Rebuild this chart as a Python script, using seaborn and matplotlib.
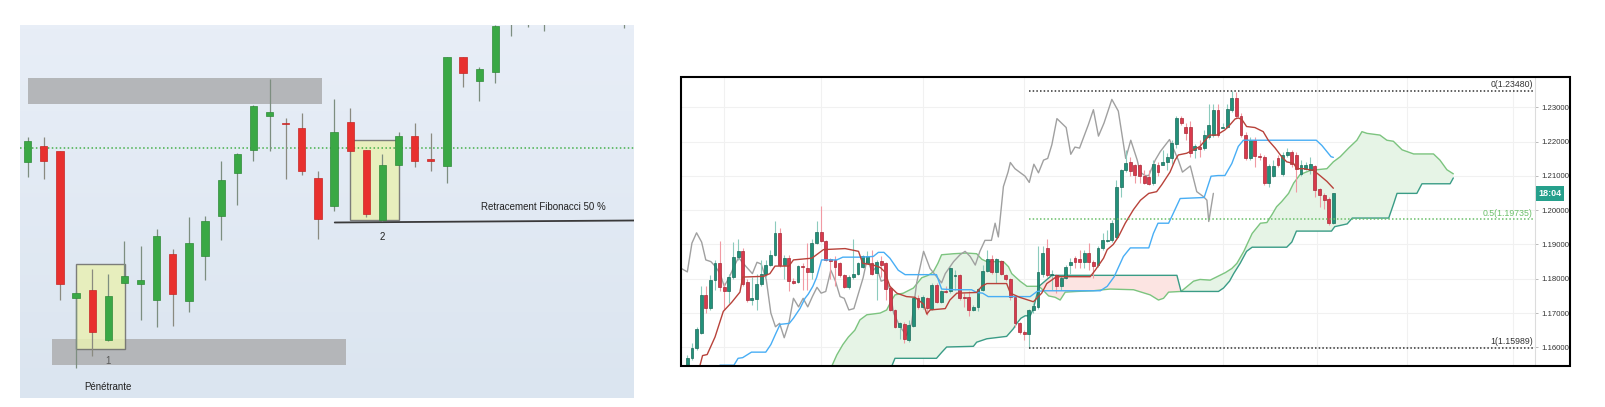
import numpy as np
import matplotlib
matplotlib.use("Agg")
import matplotlib.pyplot as plt
import matplotlib.transforms as mtransforms
from matplotlib.colors import LinearSegmentedColormap
from matplotlib.patches import Rectangle
import seaborn as sns

# ---------------- left chart: hand drawn pattern (arbitrary point scale) ----------------
pat_open = [71.3, 76.3, 74.8, 30.5, 33.0, 18.0, 35.0, 34.8, 30.0, 43.7, 29.5, 43.2, 55.0,
            68.2, 75.0, 85.3, 83.0, 81.5, 66.7, 58.3, 83.3, 74.9, 54.0, 70.6, 79.2, 72.3,
            70.2, 102.8, 95.8, 98.4, 118.0, 115.0, 114.0, 120.0, 124.0, 121.0, 123.0, 115.0]
pat_high = [79.0, 79.0, 74.8, 32.5, 39.2, 37.7, 47.5, 46.0, 51.2, 45.2, 54.8, 55.0, 71.6,
            74.0, 88.5, 96.2, 84.5, 86.2, 68.7, 90.4, 87.5, 74.9, 73.7, 80.3, 83.0, 80.0,
            103.0, 103.0, 100.0, 112.4, 126.0, 122.0, 121.0, 126.0, 127.0, 128.0, 129.0, 124.0]
pat_low = [66.8, 66.2, 30.0, 9.5, 13.2, 17.5, 35.0, 23.8, 21.7, 22.2, 26.2, 36.0, 48.0,
           58.5, 71.7, 74.8, 66.3, 67.5, 48.2, 56.8, 74.7, 54.8, 53.5, 70.6, 70.0, 68.8,
           65.0, 93.8, 89.8, 95.0, 109.2, 112.0, 110.8, 116.0, 118.0, 117.0, 117.0, 111.6]
pat_close = [77.8, 71.7, 34.8, 32.0, 20.2, 31.0, 37.2, 36.0, 49.0, 31.6, 47.0, 53.7, 65.9,
             73.8, 88.2, 86.3, 82.7, 68.7, 54.2, 80.4, 74.7, 55.8, 70.6, 79.2, 71.7, 71.7,
             102.8, 98.0, 99.2, 112.2, 125.0, 120.0, 119.0, 124.0, 121.0, 126.0, 127.0, 122.0]

zone_supply = (0.03, 18.25, 88.9, 96.5)     # x0, x1, y0, y1
zone_demand = (1.49, 19.75, 10.3, 18.2)
box_pattern1 = (3.0, 6.03, 15.3, 40.7)
box_pattern2 = (20.0, 23.04, 54.0, 78.0)
pivot_level = 75.5
fibo_start, fibo_y0, fibo_y1 = 19.04, 53.2, 53.8

# ---------------- right chart: EUR/USD daily with Ichimoku ----------------
ich_open = [1.1548, 1.1568, 1.1598, 1.1642, 1.1753, 1.1715, 1.1795, 1.1847, 1.1776, 1.1765,
            1.1806, 1.1863, 1.1882, 1.1790, 1.1738, 1.1740, 1.1786, 1.1813, 1.1840, 1.1870,
            1.1932, 1.1840, 1.1861, 1.1793, 1.1790, 1.1838, 1.1830, 1.1820, 1.1904, 1.1937,
            1.1910, 1.1857, 1.1855, 1.1845, 1.1812, 1.1775, 1.1805, 1.1815, 1.1833, 1.1847,
            1.1845, 1.1817, 1.1852, 1.1845, 1.1773, 1.1710, 1.1660, 1.1668, 1.1622, 1.1663,
            1.1743, 1.1718, 1.1743, 1.1713, 1.1783, 1.1733, 1.1764, 1.1763, 1.1807, 1.1810,
            1.1748, 1.1748, 1.1709, 1.1718, 1.1768, 1.1823, 1.1857, 1.1820, 1.1852, 1.1810,
            1.1798, 1.1746, 1.1672, 1.1645, 1.1640, 1.1709, 1.1718, 1.1815, 1.1890, 1.1810,
            1.1810, 1.1778, 1.1803, 1.1840, 1.1860, 1.1858, 1.1850, 1.1875, 1.1850, 1.1840,
            1.1890, 1.1910, 1.1912, 1.1922, 1.2069, 1.2116, 1.2141, 1.2131, 1.2131, 1.2101,
            1.2098, 1.2079, 1.2133, 1.2133, 1.2141, 1.2151, 1.2194, 1.2269, 1.2244, 1.2244,
            1.2176, 1.2184, 1.2181, 1.2214, 1.2219, 1.2293, 1.2241, 1.2244, 1.2291, 1.2326,
            1.2274, 1.2219, 1.2151, 1.2206, 1.2158, 1.2154, 1.2079, 1.2101, 1.2151, 1.2106,
            1.2161, 1.2171, 1.2161, 1.2106, 1.2121, 1.2116, 1.2128, 1.2061, 1.2044, 1.2034,
            1.1962]
ich_high = [1.1578, 1.1613, 1.1660, 1.1778, 1.1778, 1.1810, 1.1855, 1.1909, 1.1788, 1.1813,
            1.1907, 1.1917, 1.1890, 1.1798, 1.1806, 1.1815, 1.1855, 1.1855, 1.1885, 1.1967,
            1.1947, 1.1870, 1.1870, 1.1803, 1.1840, 1.1845, 1.1905, 1.1917, 1.1967, 1.2011,
            1.1912, 1.1860, 1.1865, 1.1850, 1.1815, 1.1810, 1.1917, 1.1850, 1.1870, 1.1880,
            1.1885, 1.1855, 1.1865, 1.1850, 1.1778, 1.1713, 1.1675, 1.1675, 1.1680, 1.1748,
            1.1753, 1.1753, 1.1748, 1.1788, 1.1788, 1.1768, 1.1778, 1.1835, 1.1825, 1.1813,
            1.1758, 1.1763, 1.1723, 1.1773, 1.1840, 1.1885, 1.1870, 1.1862, 1.1855, 1.1815,
            1.1803, 1.1753, 1.1675, 1.1650, 1.1713, 1.1728, 1.1895, 1.1895, 1.1917, 1.1825,
            1.1815, 1.1808, 1.1840, 1.1860, 1.1865, 1.1885, 1.1885, 1.1905, 1.1855, 1.1895,
            1.1932, 1.1942, 1.1972, 1.2089, 1.2121, 1.2176, 1.2156, 1.2136, 1.2136, 1.2116,
            1.2116, 1.2146, 1.2141, 1.2176, 1.2166, 1.2204, 1.2274, 1.2274, 1.2254, 1.2259,
            1.2194, 1.2204, 1.2234, 1.2311, 1.2311, 1.2311, 1.2254, 1.2311, 1.2348, 1.2346,
            1.2284, 1.2229, 1.2214, 1.2214, 1.2166, 1.2161, 1.2136, 1.2146, 1.2161, 1.2171,
            1.2181, 1.2176, 1.2171, 1.2146, 1.2141, 1.2156, 1.2131, 1.2064, 1.2049, 1.2039,
            1.2051]
ich_low = [1.1538, 1.1563, 1.1593, 1.1640, 1.1700, 1.1709, 1.1768, 1.1763, 1.1709, 1.1728,
           1.1798, 1.1855, 1.1780, 1.1733, 1.1723, 1.1710, 1.1778, 1.1806, 1.1837, 1.1867,
           1.1835, 1.1798, 1.1763, 1.1786, 1.1788, 1.1768, 1.1768, 1.1798, 1.1900, 1.1907,
           1.1853, 1.1798, 1.1778, 1.1806, 1.1773, 1.1771, 1.1798, 1.1810, 1.1830, 1.1845,
           1.1810, 1.1738, 1.1806, 1.1738, 1.1706, 1.1655, 1.1625, 1.1612, 1.1615, 1.1660,
           1.1713, 1.1713, 1.1695, 1.1709, 1.1728, 1.1728, 1.1758, 1.1758, 1.1768, 1.1738,
           1.1718, 1.1690, 1.1706, 1.1705, 1.1763, 1.1820, 1.1815, 1.1788, 1.1810, 1.1793,
           1.1738, 1.1660, 1.1638, 1.1620, 1.15989, 1.1700, 1.1713, 1.1806, 1.1806, 1.1768,
           1.1758, 1.1768, 1.1798, 1.1815, 1.1830, 1.1830, 1.1830, 1.1825, 1.1803, 1.1835,
           1.1885, 1.1907, 1.1907, 1.1917, 1.2039, 1.2111, 1.2101, 1.2079, 1.2079, 1.2077,
           1.2074, 1.2074, 1.2101, 1.2131, 1.2116, 1.2136, 1.2181, 1.2249, 1.2204, 1.2156,
           1.2151, 1.2156, 1.2176, 1.2209, 1.2214, 1.2214, 1.2239, 1.2239, 1.2286, 1.2269,
           1.2214, 1.2146, 1.2146, 1.2126, 1.2146, 1.2074, 1.2069, 1.2096, 1.2126, 1.2101,
           1.2156, 1.2126, 1.2054, 1.2101, 1.2116, 1.2106, 1.2039, 1.2009, 1.2004, 1.1957,
           1.1960]
ich_close = [1.1570, 1.1598, 1.1653, 1.1753, 1.1715, 1.1795, 1.1847, 1.1776, 1.1765, 1.1806,
             1.1863, 1.1880, 1.1785, 1.1738, 1.1743, 1.1786, 1.1813, 1.1840, 1.1870, 1.1932,
             1.1840, 1.1861, 1.1793, 1.1788, 1.1837, 1.1833, 1.1820, 1.1904, 1.1937, 1.1910,
             1.1855, 1.1851, 1.1835, 1.1812, 1.1775, 1.1805, 1.1815, 1.1845, 1.1865, 1.1865,
             1.1815, 1.1850, 1.1840, 1.1770, 1.1710, 1.1660, 1.1670, 1.1625, 1.1665, 1.1743,
             1.1718, 1.1746, 1.1715, 1.1783, 1.1733, 1.1763, 1.1760, 1.1830, 1.1812, 1.1743,
             1.1743, 1.1709, 1.1718, 1.1770, 1.1823, 1.1857, 1.1820, 1.1857, 1.1815, 1.1798,
             1.1746, 1.1672, 1.1645, 1.1640, 1.1710, 1.1720, 1.1820, 1.1875, 1.1810, 1.1815,
             1.1778, 1.1803, 1.1835, 1.1850, 1.1850, 1.1850, 1.1875, 1.1850, 1.1837, 1.1890,
             1.1912, 1.1914, 1.1962, 1.2069, 1.2116, 1.2138, 1.2114, 1.2104, 1.2101, 1.2079,
             1.2077, 1.2136, 1.2111, 1.2141, 1.2156, 1.2196, 1.2269, 1.2254, 1.2224, 1.2166,
             1.2186, 1.2178, 1.2219, 1.2249, 1.2293, 1.2219, 1.2244, 1.2296, 1.2326, 1.2274,
             1.2219, 1.2151, 1.2206, 1.2158, 1.2154, 1.2079, 1.2128, 1.2128, 1.2131, 1.2161,
             1.2171, 1.2136, 1.2121, 1.2131, 1.2131, 1.2134, 1.2059, 1.2044, 1.2031, 1.1962,
             1.2049]

# Ichimoku lines, read as vertices (bar index, price)
tenkan_bar = [2.2, 2.7, 3.3, 4.3, 6.0, 7.8, 9.6, 11.4, 12, 16.5, 17.9, 19, 22, 23, 27, 29.5,
              34.2, 37.1, 38, 40.3, 41.8, 42.8, 43.9, 45.4, 47.5, 49.3, 51.2, 51.9, 52.6, 55.9,
              56.9, 58.4, 62.7, 63.8, 64.9, 69.2, 70, 72, 75, 76.8, 77.9, 80, 87.3, 88.4, 90.2,
              91, 92.3, 93.4, 94.9, 96.7, 98.2, 100, 101.7, 102.8, 104.6, 105.7, 106.4, 108.2,
              109.7, 111.1, 113.2, 114.7, 116.5, 117.6, 118.7, 119.4, 120.2, 121.2, 123, 124.8,
              125.9, 127.4, 128.8, 129.9, 131.4, 132.1, 133.5, 135.7, 137.1, 138.6, 140]
tenkan_val = [1.1523, 1.1545, 1.1576, 1.1579, 1.1630, 1.1705, 1.1731, 1.1761, 1.1805, 1.1807,
              1.1815, 1.1837, 1.1837, 1.1855, 1.1860, 1.1885, 1.1888, 1.1880, 1.1845, 1.1840,
              1.1833, 1.1820, 1.1778, 1.1758, 1.1748, 1.1746, 1.1726, 1.1697, 1.1709, 1.1713,
              1.1738, 1.1758, 1.1760, 1.1778, 1.1786, 1.1786, 1.1758, 1.1746, 1.1733, 1.1758,
              1.1786, 1.1806, 1.1806, 1.1825, 1.1860, 1.1885, 1.1900, 1.1922, 1.1962, 1.2002,
              1.2029, 1.2049, 1.2054, 1.2074, 1.2111, 1.2146, 1.2161, 1.2166, 1.2176, 1.2186,
              1.2219, 1.2219, 1.2234, 1.2249, 1.2266, 1.2269, 1.2264, 1.2244, 1.2241, 1.2229,
              1.2204, 1.2181, 1.2156, 1.2141, 1.2136, 1.2121, 1.2121, 1.2116, 1.2101, 1.2084,
              1.2064]

kijun_bar = [5.5, 7.1, 10.1, 11, 12, 13.9, 17, 18.1, 19.2, 20.1, 22.1, 23, 24.4, 25.5, 26.2,
             27.2, 28, 29.1, 32.4, 33.7, 37.4, 40.3, 41.4, 42.6, 43.9, 45.7, 47.2, 54, 55.1,
             57.7, 61.6, 62.7, 64, 65.2, 74.3, 75.8, 77.3, 89.5, 91, 92.5, 94.5, 96, 100, 101,
             102, 104.3, 105, 106.8, 112, 113.5, 115, 116.5, 118, 119.4, 120.5, 136.3, 137.5,
             139.5, 140]
kijun_val = [1.1533, 1.1548, 1.1548, 1.1568, 1.1570, 1.1586, 1.1586, 1.1608, 1.1641, 1.1667,
             1.1670, 1.1685, 1.1713, 1.1743, 1.1755, 1.1778, 1.1803, 1.1855, 1.1855, 1.1863,
             1.1863, 1.1865, 1.1877, 1.1877, 1.1860, 1.1825, 1.1812, 1.1812, 1.1770, 1.1768,
             1.1768, 1.1760, 1.1758, 1.1748, 1.1748, 1.1763, 1.1765, 1.1765, 1.1778, 1.1806,
             1.1865, 1.1890, 1.1890, 1.1932, 1.1962, 1.1962, 1.1982, 1.2034, 1.2037, 1.2099,
             1.2101, 1.2101, 1.2136, 1.2186, 1.2204, 1.2204, 1.2189, 1.2156, 1.2154]

chikou_bar = [-1.3, 0, 1, 2, 3.1, 4, 5.1, 6, 7.1, 8, 9.1, 10.1, 11.1, 12.1, 13.1, 14.1, 15.1,
              16, 17.1, 18.1, 19.1, 20, 21, 22, 23, 24.1, 25.1, 26.1, 27.1, 28.1, 29, 30, 31.1,
              32.1, 33.1, 34, 35, 36.1, 37.1, 38.1, 39, 40, 41, 42, 43, 43.9, 44.7, 46.1, 47.5,
              48.6, 49.7, 51.2, 52.6, 55.1, 55.9, 57.7, 59.1, 60.2, 61.3, 62.4, 63.4, 64.5,
              65.9, 66.7, 67.4, 68.5, 69.5, 70, 71, 72.5, 73.2, 74.1, 75.1, 76.1, 77.2, 78.1,
              79, 80.1, 82.1, 83.1, 84, 85, 86.9, 88, 89.1, 90.3, 92, 93.4, 95, 96.1, 97.5,
              98.1, 99.2, 100, 101.4, 102.5, 104.5, 106.4, 107.3, 109, 110.4, 111.9, 112.6, 113,
              114]
chikou_val = [1.1830, 1.1820, 1.1904, 1.1934, 1.1907, 1.1855, 1.1850, 1.1837, 1.1815, 1.1778,
              1.1805, 1.1835, 1.1862, 1.1845, 1.1830, 1.1815, 1.1848, 1.1843, 1.1798, 1.1700,
              1.1660, 1.1670, 1.1628, 1.1670, 1.1743, 1.1718, 1.1743, 1.1718, 1.1748, 1.1775,
              1.1758, 1.1763, 1.1825, 1.1793, 1.1748, 1.1743, 1.1709, 1.1713, 1.1758, 1.1803,
              1.1860, 1.1820, 1.1835, 1.1793, 1.1798, 1.1768, 1.1700, 1.1660, 1.1635, 1.1670,
              1.1788, 1.1880, 1.1830, 1.1788, 1.1815, 1.1850, 1.1870, 1.1880, 1.1865, 1.1840,
              1.1880, 1.1912, 1.1912, 1.1962, 1.1922, 1.2069, 1.2111, 1.2139, 1.2121, 1.2106,
              1.2099, 1.2081, 1.2134, 1.2109, 1.2146, 1.2151, 1.2191, 1.2267, 1.2241, 1.2163,
              1.2184, 1.2181, 1.2249, 1.2293, 1.2216, 1.2254, 1.2323, 1.2289, 1.2151, 1.2204,
              1.2146, 1.2111, 1.2101, 1.2101, 1.2146, 1.2171, 1.2206, 1.2146, 1.2111, 1.2129,
              1.2054, 1.2039, 1.2029, 1.1967, 1.2049]

span_a_bar = [31.3, 32.4, 33.7, 34.9, 36.3, 37.4, 38.9, 41.8, 43.2, 44.3, 45, 46.8, 49, 50.8,
              52.2, 53.3, 54.3, 55.1, 57.7, 60.5, 62.7, 63.8, 64.9, 68.5, 69.6, 70.3, 72.1,
              73.6, 76.2, 77, 78.3, 79.7, 80.8, 81.9, 84.4, 88, 91.6, 96.7, 100.3, 102.1, 103.2,
              104.3, 107, 109.7, 111.1, 113.3, 115.1, 116.6, 118, 119.1, 120.6, 121.7, 122.4,
              124.2, 125.6, 126.7, 127.7, 128.8, 130.3, 131.4, 132.8, 135, 138.6, 140, 141.5,
              143.3, 145.1, 146.2, 147.3, 150.1, 151.6, 153, 154.9, 157.4, 161.7, 163.1, 164.6,
              166]
span_a_val = [1.1545, 1.1578, 1.1608, 1.1630, 1.1650, 1.1680, 1.1695, 1.1700, 1.1709, 1.1738,
              1.1753, 1.1758, 1.1773, 1.1803, 1.1810, 1.1820, 1.1845, 1.1870, 1.1873, 1.1875,
              1.1873, 1.1857, 1.1850, 1.1850, 1.1835, 1.1815, 1.1793, 1.1778, 1.1778, 1.1768,
              1.1750, 1.1746, 1.1738, 1.1761, 1.1763, 1.1765, 1.1770, 1.1768, 1.1753, 1.1738,
              1.1743, 1.1761, 1.1763, 1.1793, 1.1798, 1.1796, 1.1808, 1.1818, 1.1830, 1.1845,
              1.1880, 1.1912, 1.1932, 1.1962, 1.1964, 1.1987, 1.2010, 1.2025, 1.2049, 1.2079,
              1.2104, 1.2116, 1.2121, 1.2141, 1.2156, 1.2181, 1.2204, 1.2229, 1.2224, 1.2219,
              1.2204, 1.2201, 1.2176, 1.2164, 1.2164, 1.2146, 1.2118, 1.2106]

span_b_bar = [44.3, 45, 54, 55.1, 56.2, 62, 62.7, 63.8, 64.9, 69.2, 70.7, 71.4, 72.3, 73.2,
              74.3, 75, 76.2, 77.5, 79, 106.1, 107, 115.1, 116.2, 117.5, 118.4, 119.8, 121.2,
              122.4, 129.9, 131, 132, 139.6, 140.3, 143, 144.1, 152, 153.1, 153.8, 158.1, 159.2,
              165.3, 166]
span_b_val = [1.1545, 1.1568, 1.1568, 1.1585, 1.1601, 1.1603, 1.1615, 1.1620, 1.1625, 1.1632,
              1.1655, 1.1670, 1.1685, 1.1692, 1.1692, 1.1713, 1.1778, 1.1793, 1.1810, 1.1810,
              1.1763, 1.1763, 1.1773, 1.1793, 1.1815, 1.1845, 1.1880, 1.1892, 1.1892, 1.1907,
              1.1939, 1.1939, 1.1952, 1.1960, 1.1977, 1.1977, 1.2020, 1.2049, 1.2049, 1.2077,
              1.2077, 1.2094]

# cloud segments: (first bar, last bar, bullish?)
cloud_segments = [(31.3, 76.2, True), (76.2, 107.0, False), (107.0, 166.0, True)]

fib_start_bar = 74
fib_levels = [0.0, 0.5, 1.0]
fib_prices = [1.23480, 1.19735, 1.15989]
price_ticks = [1.16, 1.17, 1.18, 1.19, 1.20, 1.21, 1.22, 1.23]
month_bars = [8, 29, 51, 73, 116, 136.5, 156, 179]
countdown = "18:04"


def draw_candles(ax, o, h, l, c, width, up, down, up_edge, down_edge,
                 up_wick, down_wick, wick_lw, min_body):
    o, h, l, c = map(np.asarray, (o, h, l, c))
    x = np.arange(len(o))
    rising = c >= o
    ax.vlines(x, l, h, colors=np.where(rising, up_wick, down_wick), lw=wick_lw, zorder=3)
    bottom = np.minimum(o, c)
    height = np.maximum(np.abs(c - o), min_body)
    ax.bar(x, height, width, bottom=bottom, color=np.where(rising, up, down),
           edgecolor=np.where(rising, up_edge, down_edge), lw=0.5, zorder=4)


sns.set_style("white")
plt.rcParams["font.family"] = ["Liberation Sans", "DejaVu Sans"]

fig = plt.figure(figsize=(16.06, 4.07), dpi=100)
W, H = 1606, 407

# ================= left panel =================
axl = fig.add_axes([20 / W, (H - 398) / H, 614 / W, 373 / H])
xl0, xl1, yl0, yl1 = -0.48, 37.6, 0.5, 112.5
axl.set_xlim(xl0, xl1)
axl.set_ylim(yl0, yl1)
bg = LinearSegmentedColormap.from_list("bg", ["#dbe5f0", "#e8eef7"])
axl.imshow(np.linspace(0, 1, 100).reshape(-1, 1), cmap=bg, origin="lower",
           extent=(xl0, xl1, yl0, yl1), aspect="auto", zorder=0)

for x0, x1, y0, y1 in (zone_supply, zone_demand):
    axl.add_patch(Rectangle((x0, y0), x1 - x0, y1 - y0, fc="#b4b6b9", ec="none", zorder=1))
for x0, x1, y0, y1 in (box_pattern1, box_pattern2):
    axl.add_patch(Rectangle((x0, y0), x1 - x0, y1 - y0, fc="#e9f0b4", ec="#6a6a6a",
                            lw=1.0, alpha=0.85, zorder=2))

axl.axhline(pivot_level, color="#45b04a", lw=1.1, ls=(0, (1, 1.6)), zorder=2)
axl.plot([fibo_start, xl1], [fibo_y0, fibo_y1], color="#3a3a3a", lw=1.3, zorder=2)

draw_candles(axl, pat_open, pat_high, pat_low, pat_close, 0.45,
             "#3aa845", "#e8302e", "#2f8a38", "#c52624", "#7d8e80", "#8a8a80", 0.9, 0.5)

axl.text(32.0, 58.0, "Retracement Fibonacci 50 %", ha="center", va="center",
         fontsize=7, color="#222222")
axl.text(22.0, 48.7, "2", ha="center", va="center", fontsize=7, color="#222222")
axl.text(4.99, 11.7, "1", ha="center", va="center", fontsize=7, color="#5a5a5a")
axl.text(5.0, 3.7, "Pénétrante", ha="center", va="center", fontsize=7, color="#222222")
axl.axis("off")

# ================= right panel =================
axr = fig.add_axes([681 / W, (H - 366) / H, (1535 - 681) / W, (366 - 77.3) / H])
axr.set_xlim(-1.37, 183.7)
axr.set_ylim(1.15456, 1.23875)
axr.set_facecolor("white")

for x0, x1, bullish in cloud_segments:
    pa = [(x, y) for x, y in zip(span_a_bar, span_a_val) if x0 <= x <= x1]
    pb = [(x, y) for x, y in zip(span_b_bar, span_b_val) if x0 <= x <= x1][::-1]
    poly = pa + pb
    axr.fill([p[0] for p in poly], [p[1] for p in poly],
             color="#e6f4e6" if bullish else "#fce4e2", lw=0, zorder=1)

sns.lineplot(x=span_a_bar, y=span_a_val, ax=axr, color="#7cc47f", lw=1.0,
             estimator=None, sort=False, zorder=2)
sns.lineplot(x=span_b_bar, y=span_b_val, ax=axr, color="#3a9c86", lw=1.0,
             estimator=None, sort=False, zorder=2)
sns.lineplot(x=chikou_bar, y=chikou_val, ax=axr, color="#a0a0a0", lw=1.0,
             estimator=None, sort=False, zorder=2)
sns.lineplot(x=kijun_bar, y=kijun_val, ax=axr, color="#48aef5", lw=1.0,
             estimator=None, sort=False, zorder=5)
sns.lineplot(x=tenkan_bar, y=tenkan_val, ax=axr, color="#b8423a", lw=1.0,
             estimator=None, sort=False, zorder=5)

draw_candles(axr, ich_open, ich_high, ich_low, ich_close, 0.62,
             "#22917a", "#d93a4c", "#1b6b5a", "#a82a38", "#8ccbbd", "#f19aa3", 0.8, 0.00012)

x_end = 183.2
for lvl, price in zip(fib_levels, fib_prices):
    col = "#6abf69" if lvl == 0.5 else "#333333"
    axr.hlines(price, fib_start_bar, x_end, colors=col, lw=1.1, ls=(0, (1, 1.4)), zorder=6)
    axr.text(x_end, price + 0.0004, f"{lvl:g}({price:.5f})", ha="right", va="bottom",
             fontsize=6.3, color=col, zorder=7)

axr.set_yticks(price_ticks)
axr.set_yticklabels([f"{t:.5f}" for t in price_ticks])
axr.yaxis.tick_right()
axr.tick_params(axis="y", length=2.5, width=0.6, color="#b0b0b0", labelsize=5.6,
                labelcolor="#333333", pad=2)
axr.set_xticks(month_bars)
axr.tick_params(axis="x", length=0, labelbottom=False)
axr.grid(True, color="#f1f1f1", lw=0.8, zorder=0)
axr.set_axisbelow(True)
for side in ("left", "top", "bottom"):
    axr.spines[side].set_visible(False)
axr.spines["right"].set_color("#dcdcdc")
axr.spines["right"].set_linewidth(0.8)
axr.set_xlabel("")
axr.set_ylabel("")

blend = mtransforms.blended_transform_factory(axr.transAxes, axr.transData)
axr.text(1.004, ich_close[-1], countdown, transform=blend, ha="left", va="center",
         fontsize=6.5, color="white", fontweight="bold", clip_on=False,
         bbox=dict(boxstyle="square,pad=0.3", fc="#26a08c", ec="none"))

fig.add_artist(Rectangle((681 / W, (H - 366) / H), (1570 - 681) / W, (366 - 77.3) / H,
                         transform=fig.transFigure, fill=False, ec="black", lw=1.5))

fig.savefig("out.png", dpi=100, facecolor="white")
